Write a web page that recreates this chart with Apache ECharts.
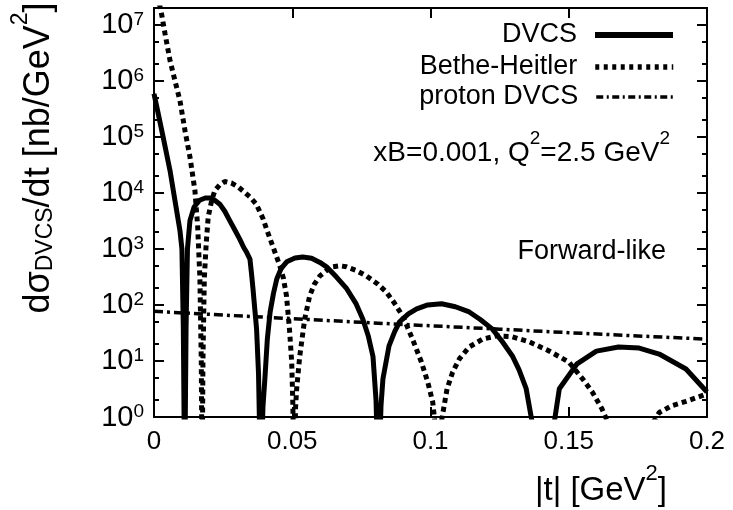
<!DOCTYPE html>
<html><head><meta charset="utf-8">
<script src="https://cdn.jsdelivr.net/npm/echarts@6/dist/echarts.min.js"></script>
<style>html,body{margin:0;padding:0;background:#fff}#c{width:733px;height:510px}</style>
</head><body><div id="c"></div>
<script>
// ---- data ----
const seriesNames = ['DVCS', 'Bethe-Heitler', 'proton DVCS'];

const dvcsT = [0, 0.0016, 0.0033, 0.0058, 0.0076, 0.0094, 0.0101, 0.0106, 0.0111, 0.0116, 0.0121, 0.013, 0.0145, 0.0165, 0.0185, 0.0202, 0.022, 0.0238, 0.0256, 0.0274, 0.0292, 0.031, 0.0325, 0.0335, 0.0347, 0.0353, 0.0358, 0.0364, 0.0371, 0.0378, 0.0386, 0.0394, 0.0401, 0.041, 0.042, 0.0432, 0.0444, 0.046, 0.048, 0.051, 0.0538, 0.057, 0.06, 0.0624, 0.066, 0.0697, 0.073, 0.0755, 0.0775, 0.0792, 0.0803, 0.0812, 0.0821, 0.0828, 0.085, 0.087, 0.0888, 0.092, 0.095, 0.099, 0.104, 0.109, 0.114, 0.118, 0.1224, 0.126, 0.1296, 0.132, 0.1346, 0.1383, 0.142, 0.1466, 0.153, 0.16, 0.168, 0.1755, 0.1827, 0.1924, 0.2];
const dvcsV = [5.9e5, 2.5e5, 1.0e5, 2.5e4, 7.2e3, 2.1e3, 1.0e3, 40, 0.05, 40, 1.0e3, 3.2e3, 5.6e3, 7.4e3, 8.1e3, 8.1e3, 7.4e3, 6.3e3, 4.7e3, 3.2e3, 2.2e3, 1.5e3, 1.05e3, 870, 660, 350, 195, 90, 37, 6, 0.05, 1.5, 4.8, 25, 75, 160, 290, 450, 590, 690, 720, 680, 575, 480, 315, 195, 107, 56, 28, 12, 2, 0.05, 1.6, 4.8, 18.6, 33, 50, 69, 85, 100, 105, 93, 75, 55, 37, 22, 12.3, 7, 3.2, 0.3, 0.1, 3.2, 8.9, 15, 17.8, 17, 13.3, 7.2, 2.8];

const bhT = [0, 0.0028, 0.004, 0.0058, 0.0076, 0.0094, 0.0112, 0.013, 0.0148, 0.0158, 0.0166, 0.0171, 0.0174, 0.0177, 0.0182, 0.0189, 0.0196, 0.0208, 0.022, 0.0238, 0.0256, 0.028, 0.0303, 0.0325, 0.0347, 0.037, 0.0394, 0.0408, 0.043, 0.0455, 0.0468, 0.0479, 0.049, 0.0498, 0.0502, 0.0507, 0.0512, 0.0516, 0.0527, 0.0545, 0.0563, 0.058, 0.06, 0.0625, 0.0647, 0.0672, 0.0696, 0.073, 0.0768, 0.081, 0.084, 0.087, 0.09, 0.0935, 0.0967, 0.099, 0.1008, 0.1025, 0.1045, 0.106, 0.108, 0.1105, 0.114, 0.1188, 0.1238, 0.1296, 0.1357, 0.143, 0.15, 0.155, 0.1585, 0.162, 0.166, 0.172, 0.178, 0.1827, 0.1874, 0.1924, 0.1982, 0.2];
const bhV = [7e7, 1.5e7, 6.9e6, 2.3e6, 1.0e6, 4.4e5, 1.3e5, 4.4e4, 1.1e4, 2.5e3, 300, 10, 0.05, 10, 300, 1.3e3, 3.7e3, 7.1e3, 1.1e4, 1.4e4, 1.6e4, 1.5e4, 1.3e4, 1.05e4, 8.5e3, 6.3e3, 3.5e3, 2.2e3, 1.1e3, 500, 300, 147, 37, 9.6, 1.85, 0.05, 1.5, 3.2, 12, 56, 145, 235, 330, 415, 480, 500, 480, 415, 330, 235, 170, 107, 63, 24.5, 9.6, 4.2, 1.85, 0.3, 1.2, 3.2, 6.3, 11, 17.8, 24.5, 28, 27, 22, 15, 9.6, 4.8, 2.8, 1.4, 0.5, 0.2, 0.5, 1.2, 1.6, 1.9, 2.4, 2.6];

const protonT = [0, 0.025, 0.05, 0.075, 0.1, 0.125, 0.15, 0.175, 0.2];
const protonV = [77, 66, 57, 49, 42.5, 37, 32, 28, 24.5];

const xTickValues = [0, 0.05, 0.1, 0.15, 0.2];
const yMajorTicks = [1, 10, 100, 1e3, 1e4, 1e5, 1e6, 1e7];
const yMinorTicks = [2, 5, 20, 50, 200, 500, 2e3, 5e3, 2e4, 5e4, 2e5, 5e5, 2e6, 5e6];

// ---- chart ----
const FONT = '"Liberation Sans", Arial, Helvetica, sans-serif';
const zip = (a, b) => a.map((v, i) => [v, b[i]]);

function yAxis(pos, major, labels) {
  return {
    type: 'log', logBase: 10, min: 1, max: 2e7, position: pos,
    axisLine: { show: true, onZero: false, lineStyle: { color: '#000', width: 2 } },
    axisTick: { show: true, inside: true, length: major ? 10 : 5,
      customValues: major ? yMajorTicks : yMinorTicks,
      lineStyle: { color: '#000', width: 2 } },
    axisLabel: { show: labels, customValues: yMajorTicks, margin: 10,
      formatter: v => '{b|10}{s|' + Math.round(Math.log10(v)) + '}',
      rich: {
        b: { fontFamily: FONT, fontSize: 29, color: '#000', lineHeight: 30, verticalAlign: 'bottom' },
        s: { fontFamily: FONT, fontSize: 19, color: '#000', lineHeight: 12, verticalAlign: 'top' }
      } },
    splitLine: { show: false }, minorTick: { show: false }
  };
}
function xAxis(pos, labels) {
  return {
    type: 'value', min: 0, max: 0.2, interval: 0.05, position: pos,
    axisLine: { show: true, onZero: false, lineStyle: { color: '#000', width: 2 } },
    axisTick: { show: true, inside: true, length: 10, customValues: xTickValues, lineStyle: { color: '#000', width: 2 } },
    axisLabel: { show: labels, customValues: xTickValues, margin: 12, fontFamily: FONT, fontSize: 26, color: '#000' },
    splitLine: { show: false }
  };
}
function legend(name, top, ls) {
  return {
    data: [name], right: 57, top: top, orient: 'vertical', align: 'right',
    padding: 0, itemWidth: 78, itemHeight: 14, selectedMode: false,
    itemStyle: { opacity: 0, color: 'transparent', borderWidth: 0 },
    lineStyle: ls,
    textStyle: { fontFamily: FONT, fontSize: 27, color: '#000', lineHeight: 30, padding: [0, 13, 0, 0] }
  };
}

const chart = echarts.init(document.getElementById('c'), null, { renderer: 'canvas' });
chart.setOption({
  animation: false,
  backgroundColor: '#fff',
  grid: { left: 154, right: 26, top: 8, bottom: 93, containLabel: false },
  xAxis: [xAxis('bottom', true), xAxis('top', false)],
  yAxis: [yAxis('left', true, true), yAxis('left', false, false), yAxis('right', true, false), yAxis('right', false, false)],
  legend: [
    legend(seriesNames[0], 20, { color: '#000', width: 6, type: 'solid' }),
    legend(seriesNames[1], 52, { color: '#000', width: 5.5, type: [4, 4.5] }),
    legend(seriesNames[2], 82, { color: '#000', width: 3.5, type: [7, 3.5, 2, 3.5] })
  ],
  series: [
    { name: seriesNames[0], type: 'line', data: zip(dvcsT, dvcsV), symbol: 'none', clip: true,
      lineStyle: { color: '#000', width: 5, type: 'solid', join: 'round' }, itemStyle: { color: '#000' } },
    { name: seriesNames[1], type: 'line', data: zip(bhT, bhV), symbol: 'none', clip: true,
      lineStyle: { color: '#000', width: 5, type: [5, 4] }, itemStyle: { color: '#000' } },
    { name: seriesNames[2], type: 'line', data: zip(protonT, protonV), symbol: 'none', clip: true,
      lineStyle: { color: '#000', width: 3.5, type: [9, 4, 3, 4] }, itemStyle: { color: '#000' } }
  ],
  graphic: [
    { type: 'text', x: 33, y: 158, rotation: Math.PI / 2,
      style: { text: '{m|dσ}{sub|DVCS}{m|/dt [nb/GeV}{sup|2}{m|]}', align: 'center', verticalAlign: 'middle',
        rich: {
          m: { fontFamily: FONT, fontSize: 36, lineHeight: 48, verticalAlign: 'bottom', fill: '#000' },
          sub: { fontFamily: FONT, fontSize: 23, lineHeight: 36, verticalAlign: 'bottom', fill: '#000' },
          sup: { fontFamily: FONT, fontSize: 23, lineHeight: 10, verticalAlign: 'top', fill: '#000' }
        } } },
    { type: 'text', x: 667, y: 485,
      style: { text: '{m||t| [GeV}{sup|2}{m|]}', align: 'right', verticalAlign: 'middle',
        rich: {
          m: { fontFamily: FONT, fontSize: 33, lineHeight: 44, verticalAlign: 'bottom', fill: '#000' },
          sup: { fontFamily: FONT, fontSize: 22, lineHeight: 10, verticalAlign: 'top', fill: '#000' }
        } } },
    { type: 'text', x: 670, y: 148,
      style: { text: '{m|xB=0.001, Q}{sup|2}{m|=2.5 GeV}{sup|2}', align: 'right', verticalAlign: 'middle',
        rich: {
          m: { fontFamily: FONT, fontSize: 28, lineHeight: 38, verticalAlign: 'bottom', fill: '#000' },
          sup: { fontFamily: FONT, fontSize: 19, lineHeight: 10, verticalAlign: 'top', fill: '#000' }
        } } },
    { type: 'text', x: 666, y: 252,
      style: { text: 'Forward-like', align: 'right', verticalAlign: 'middle',
        fontFamily: FONT, fontSize: 27, fill: '#000' } }
  ]
});
</script></body></html>
